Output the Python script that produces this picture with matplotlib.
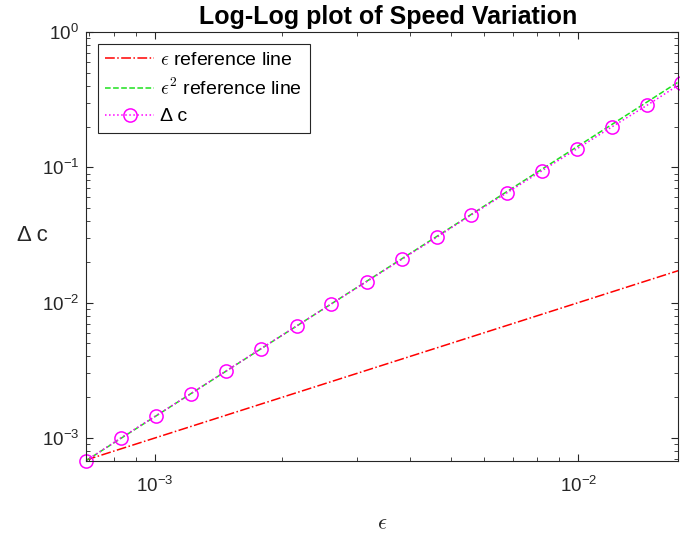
import numpy as np
import matplotlib
matplotlib.use("Agg")
import matplotlib.pyplot as plt
from matplotlib.font_manager import FontProperties

# values (log-log)
eps = [6.87e-4, 8.30e-4, 1.006e-3, 1.216e-3, 1.472e-3, 1.778e-3, 2.161e-3,
       2.609e-3, 3.162e-3, 3.828e-3, 4.628e-3, 5.577e-3, 6.786e-3, 8.209e-3,
       9.93e-3, 1.202e-2, 1.456e-2, 1.75e-2]
dc = [6.79e-4, 1.000e-3, 1.462e-3, 2.126e-3, 3.126e-3, 4.57e-3, 6.72e-3,
      9.78e-3, 1.429e-2, 2.09e-2, 3.04e-2, 4.44e-2, 6.49e-2, 9.44e-2,
      0.1372, 0.1995, 0.2884, 0.4174]

eps = np.array(eps)
dc = np.array(dc)
ref1 = eps                              # epsilon reference line
ref2 = eps**2 * dc[0] / eps[0]**2       # epsilon^2 reference line

plt.rcParams['font.family'] = ['Liberation Sans', 'DejaVu Sans']
plt.rcParams['mathtext.fontset'] = 'custom'
plt.rcParams['mathtext.rm'] = 'Liberation Sans'
plt.rcParams['mathtext.it'] = 'Liberation Sans:italic'
plt.rcParams['mathtext.bf'] = 'Liberation Sans:bold'

dark = '#262626'
fig = plt.figure(figsize=(6.8, 5.41), dpi=100)
ax = fig.add_axes([86/680, 1 - 460.7/541, (678-86)/680, (460.7-32)/541])

# computer-modern \epsilon gives the lunate form MATLAB draws
ax.loglog(eps, ref1, '-.', color='red', lw=1.1, label=r'$\epsilon$ reference line')
ax.loglog(eps, ref2, '--', color='#1ee01e', lw=1.1,
          label=r'$\epsilon^{\mathsf{2}}$ reference line')
ax.loglog(eps, dc, ':', color='magenta', lw=1.1, marker='o', ms=9.5, mfc='none',
          mec='magenta', mew=1.1, label='Δ c', clip_on=False)

ax.set_xlim(6.87e-4, 0.0172)
ax.set_ylim(6.79e-4, 1)

ax.tick_params(which='both', direction='in', top=True, right=True, colors=dark,
               labelsize=13.5)
ax.tick_params(which='major', length=5, width=0.8)
ax.tick_params(which='minor', length=3, width=0.6)
ax.tick_params(axis='x', which='major', pad=11)
ax.tick_params(axis='y', which='major', pad=5)
for s in ax.spines.values():
    s.set_color(dark)
    s.set_linewidth(0.8)

ax.set_title('Log-Log plot of Speed Variation', fontsize=18, fontweight='bold',
             color='black', pad=6, x=0.51)
ax.set_xlabel(r'$\epsilon$', fontsize=16, color=dark, labelpad=12,
              math_fontfamily='cm')
ax.set_ylabel('Δ c', fontsize=16, color=dark, rotation=0, va='center', ha='center')
ax.yaxis.set_label_coords(-0.091, 0.526)

leg_font = FontProperties(family=['Liberation Sans', 'DejaVu Sans'], size=14,
                          math_fontfamily='cm')
leg = ax.legend(loc='upper left', prop=leg_font, fancybox=False, framealpha=1,
                edgecolor=dark, handlelength=2.5, borderaxespad=0.6,
                labelspacing=0.45, handletextpad=0.3, borderpad=0.4)
leg.get_frame().set_linewidth(0.8)

fig.savefig('out.png', dpi=100)
